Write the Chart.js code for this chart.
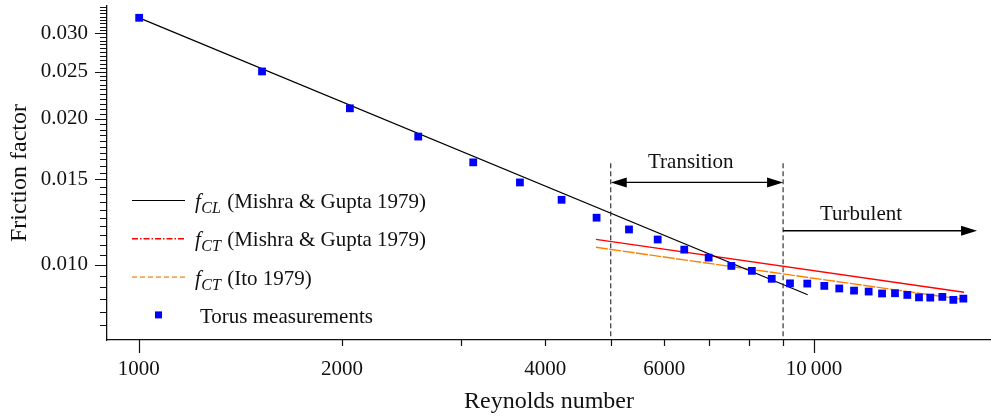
<!DOCTYPE html>
<html>
<head>
<meta charset="utf-8">
<title>Friction factor vs Reynolds number</title>
<script src="https://cdn.jsdelivr.net/npm/chart.js@4.4.1/dist/chart.umd.min.js"></script>
<style>
  html, body { margin: 0; padding: 0; background: #fff; }
  #wrap { position: relative; width: 991px; height: 417px; }
</style>
</head>
<body>
<div id="wrap"><canvas id="frictionChart"></canvas></div>
<script>
// Torus measurements
const torusRe = [1001, 1522, 2054, 2593, 3128, 3668, 4228, 4764, 5321, 5868, 6425, 6982, 7544, 8092, 8658,
                 9214, 9774, 10358, 10901, 11464, 12050, 12614, 13183, 13749, 14307, 14868, 15492, 16085, 16644];
const torusF  = [0.03232, 0.02505, 0.02103, 0.01839, 0.01627, 0.01479, 0.01362, 0.01251, 0.01183, 0.01128,
                 0.01075, 0.01035, 0.00995, 0.00972, 0.00936, 0.00916, 0.00915, 0.00905, 0.00894, 0.00885,
                 0.00881, 0.00873, 0.00874, 0.00867, 0.00857, 0.00856, 0.00859, 0.00847, 0.00852];

// laminar correlation (Mishra & Gupta 1979)
const clRe = [1001, 9788];
const clF  = [0.0323, 0.00868];

// turbulent correlations
const ctMgRe  = [4753, 16683];
const ctMgF   = [0.01129, 0.00878];
const ctItoRe = [4753, 16683];
const ctItoF  = [0.01087, 0.00848];

// axes
const xMin = 897, xMax = 18290;
const yMin = 0.007, yMax = 0.03418;
const xTickValues = [1000, 2000, 3000, 4000, 5000, 6000, 7000, 8000, 9000, 10000];
const xLabelValues = [1000, 2000, 4000, 6000, 10000];
const xLabelText = ['1000', '2000', '4000', '6000', '10\u2009000'];
const yMinorStep = 0.0005;
const yLabelValues = [0.010, 0.015, 0.020, 0.025, 0.030];
const yLabelText = ['0.010', '0.015', '0.020', '0.025', '0.030'];

// flow regimes
const transitionRe = [5000, 9000];
const boundaryTopF = 0.0162;
const transitionArrowF = 0.01479;
const turbulentArrowF = 0.01176;
const turbulentArrowEndRe = 17440;
const regionLabels = ['Transition', 'Turbulent'];
const regionLabelRe = [6570, 11740];
const regionLabelF = [0.01629, 0.01272];

const FONT = '"Liberation Serif", "DejaVu Serif", serif';
Chart.defaults.font.family = FONT;
Chart.defaults.color = '#111';

function pairs(xs, ys) {
    return xs.map((v, i) => ({ x: v, y: ys[i] }));
}

// tick marks: long ones for labelled values, short ones elsewhere
const tickMarks = {
    id: 'tickMarks',
    afterDraw(chart) {
        const { ctx, scales: { x, y } } = chart;
        ctx.save();
        ctx.strokeStyle = '#111';
        ctx.lineWidth = 1.2;
        ctx.beginPath();
        x.ticks.forEach(t => {
            const px = Math.round(x.getPixelForValue(t.value)) + 0.5;
            ctx.moveTo(px, x.top);
            ctx.lineTo(px, x.top + (t.major ? 13 : 6));
        });
        y.ticks.forEach(t => {
            const py = Math.round(y.getPixelForValue(t.value)) + 0.5;
            ctx.moveTo(y.right, py);
            ctx.lineTo(y.right - (t.major ? 12 : 7), py);
        });
        ctx.stroke();
        ctx.restore();
    }
};

function drawArrow(ctx, xa, xb, yy, both) {
    const len = 16, half = 5;
    ctx.beginPath();
    ctx.moveTo(both ? xa + len - 2 : xa, yy);
    ctx.lineTo(xb - len + 2, yy);
    ctx.stroke();
    const head = (tip, dir) => {
        ctx.beginPath();
        ctx.moveTo(tip, yy);
        ctx.lineTo(tip - dir * len, yy - half);
        ctx.lineTo(tip - dir * len, yy + half);
        ctx.closePath();
        ctx.fill();
    };
    head(xb, 1);
    if (both) head(xa, -1);
}

// transition boundaries, arrows and region names
const regionMarks = {
    id: 'regionMarks',
    afterDatasetsDraw(chart) {
        const { ctx, chartArea, scales: { x, y } } = chart;
        const x0 = x.getPixelForValue(transitionRe[0]);
        const x1 = x.getPixelForValue(transitionRe[1]);
        const top = y.getPixelForValue(boundaryTopF);
        ctx.save();
        ctx.strokeStyle = '#222';
        ctx.lineWidth = 1.1;
        ctx.setLineDash([5, 3]);
        [x0, x1].forEach(px => {
            ctx.beginPath();
            ctx.moveTo(px, top);
            ctx.lineTo(px, chartArea.bottom);
            ctx.stroke();
        });
        ctx.setLineDash([]);
        ctx.strokeStyle = '#000';
        ctx.fillStyle = '#000';
        ctx.lineWidth = 1.3;
        drawArrow(ctx, x0, x1, y.getPixelForValue(transitionArrowF), true);
        drawArrow(ctx, x1, x.getPixelForValue(turbulentArrowEndRe), y.getPixelForValue(turbulentArrowF), false);

        ctx.font = '21px ' + FONT;
        ctx.fillStyle = '#111';
        ctx.textAlign = 'center';
        ctx.textBaseline = 'middle';
        regionLabels.forEach((t, i) => {
            ctx.fillText(t, x.getPixelForValue(regionLabelRe[i]), y.getPixelForValue(regionLabelF[i]));
        });
        ctx.restore();
    }
};

// legend inside the plot, with subscripted symbols
const legendLeft = 132, legendTop = 200, legendRowGap = 38.3, sampleWidth = 53, legendTextX = 195;
const legendRows = {
    id: 'legendRows',
    afterDraw(chart) {
        const ctx = chart.ctx;
        ctx.save();
        chart.data.datasets.forEach((ds, i) => {
            const rowY = legendTop + i * legendRowGap;
            if (ds.showLine === false) {
                const s = 7;
                ctx.fillStyle = ds.backgroundColor;
                ctx.fillRect(legendLeft + sampleWidth / 2 - s / 2, rowY - s / 2, s, s);
            } else {
                ctx.strokeStyle = ds.borderColor;
                ctx.lineWidth = ds.borderWidth;
                ctx.setLineDash(ds.legendDash || []);
                ctx.beginPath();
                ctx.moveTo(legendLeft, rowY + 0.5);
                ctx.lineTo(legendLeft + sampleWidth, rowY + 0.5);
                ctx.stroke();
                ctx.setLineDash([]);
            }
            const [sym, sub, rest] = ds.legendParts;
            const base = rowY + 8;
            let tx = legendTextX + (sym ? 0 : 5);
            ctx.fillStyle = '#111';
            ctx.textAlign = 'left';
            ctx.textBaseline = 'alphabetic';
            if (sym) {
                ctx.font = 'italic 21px ' + FONT;
                ctx.fillText(sym, tx, base);
                tx += ctx.measureText(sym).width + 0.5;
                ctx.font = 'italic 16px ' + FONT;
                ctx.fillText(sub, tx, base + 5);
                tx += ctx.measureText(sub).width + 1;
            }
            ctx.font = '21px ' + FONT;
            ctx.fillText(rest, tx, base);
        });
        ctx.restore();
    }
};

new Chart(document.getElementById('frictionChart'), {
    type: 'scatter',
    data: {
        datasets: [
            {
                label: 'fCL (Mishra & Gupta 1979)',
                legendParts: ['f', 'CL', ' (Mishra & Gupta 1979)'],
                data: pairs(clRe, clF),
                showLine: true,
                borderColor: '#000',
                borderWidth: 1.2,
                pointRadius: 0
            },
            {
                label: 'fCT (Mishra & Gupta 1979)',
                legendParts: ['f', 'CT', ' (Mishra & Gupta 1979)'],
                legendDash: [6, 2, 1.5, 2],
                data: pairs(ctMgRe, ctMgF),
                showLine: true,
                borderColor: '#ff0000',
                borderWidth: 1.4,
                pointRadius: 0
            },
            {
                label: 'fCT (Ito 1979)',
                legendParts: ['f', 'CT', ' (Ito 1979)'],
                legendDash: [5, 3],
                data: pairs(ctItoRe, ctItoF),
                showLine: true,
                borderColor: '#ff8000',
                borderWidth: 1.4,
                borderDash: [12, 1.5],
                pointRadius: 0
            },
            {
                label: 'Torus measurements',
                legendParts: ['', '', 'Torus measurements'],
                data: pairs(torusRe, torusF),
                showLine: false,
                order: -1,
                pointStyle: 'rect',
                pointRadius: 5.5,
                pointBorderWidth: 0,
                backgroundColor: '#0000ff',
                borderColor: '#0000ff'
            }
        ]
    },
    options: {
        responsive: true,
        maintainAspectRatio: false,
        animation: false,
        layout: { autoPadding: false, padding: { top: 6, right: 0, bottom: 0, left: 0 } },
        plugins: {
            legend: { display: false },
            tooltip: { enabled: false }
        },
        scales: {
            x: {
                type: 'logarithmic',
                min: xMin,
                max: xMax,
                afterBuildTicks(scale) {
                    scale.ticks = xTickValues.map(v => ({ value: v, major: v === 1000 || v === 10000 }));
                },
                afterFit(scale) {
                    scale.height = 77;
                    scale.paddingLeft = 0;
                    scale.paddingRight = 0;
                },
                grid: { display: false, drawTicks: false },
                border: { display: true, color: '#111', width: 1.3 },
                ticks: {
                    autoSkip: false,
                    maxRotation: 0,
                    minRotation: 0,
                    padding: 17,
                    color: '#111',
                    font: { size: 21 },
                    callback(value) {
                        const i = xLabelValues.indexOf(value);
                        return i >= 0 ? xLabelText[i] : '';
                    }
                },
                title: {
                    display: true,
                    text: 'Reynolds number',
                    color: '#111',
                    font: { size: 24 },
                    padding: { top: 0, bottom: 1 }
                }
            },
            y: {
                type: 'logarithmic',
                min: yMin,
                max: yMax,
                afterBuildTicks(scale) {
                    const ticks = [];
                    for (let i = 15; i * yMinorStep <= yMax; i++) {
                        const v = +(i * yMinorStep).toFixed(4);
                        ticks.push({ value: v, major: yLabelValues.includes(v) });
                    }
                    scale.ticks = ticks;
                },
                afterFit(scale) {
                    scale.width = 107;
                    scale.paddingTop = 0;
                    scale.paddingBottom = 0;
                },
                grid: { display: false, drawTicks: false },
                border: { display: true, color: '#111', width: 1.3 },
                ticks: {
                    autoSkip: false,
                    padding: 19,
                    color: '#111',
                    font: { size: 21 },
                    callback(value) {
                        const i = yLabelValues.indexOf(+value.toFixed(4));
                        return i >= 0 ? yLabelText[i] : '';
                    }
                },
                title: {
                    display: true,
                    text: 'Friction factor',
                    color: '#111',
                    font: { size: 24 },
                    padding: { top: 5, bottom: 0 }
                }
            }
        }
    },
    plugins: [tickMarks, regionMarks, legendRows]
});
</script>
</body>
</html>
